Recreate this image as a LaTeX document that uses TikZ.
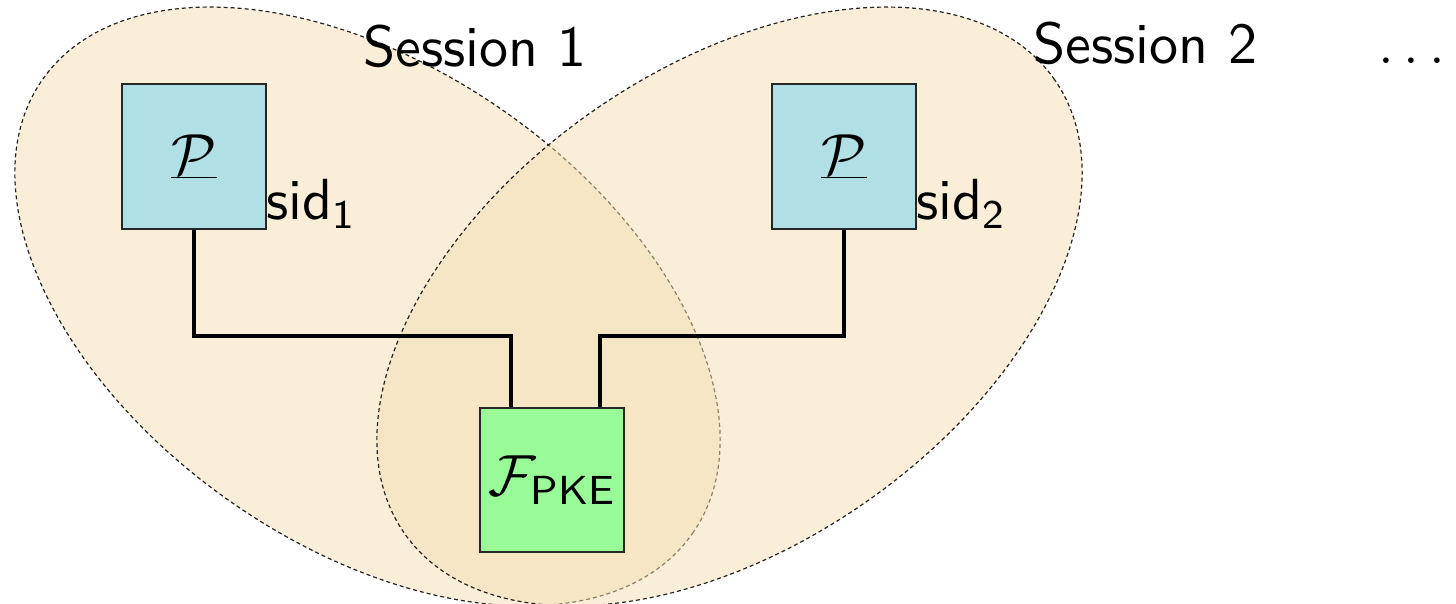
\RequirePackage{fix-cm}
\documentclass[tikz,border=0pt]{standalone}
\usepackage{fontspec}
\setsansfont[Extension=.otf, SizeFeatures={{Size=-24,Font=lmsans8-regular},{Size=24-,Font=lmsans10-regular}}]{lmsans10-regular}
\definecolor{blobfill}{RGB}{245,222,179}
\definecolor{pblue}{RGB}{176,224,230}
\definecolor{fgreen}{RGB}{152,251,152}
\begin{document}
\begin{tikzpicture}[x=0.5pt,y=0.5pt,
  font=\fontsize{29}{35}\selectfont\sffamily,
  blob/.style={fill=blobfill, fill opacity=0.5, draw=black, draw opacity=0.85, line width=0.6pt, dash pattern=on 2pt off 1.5pt},
  party/.style={draw=black!85, fill=pblue, line width=0.7pt, minimum width=72pt, minimum height=72.5pt, inner sep=0pt},
  func/.style={draw=black!85, fill=fgreen, line width=0.7pt, minimum width=72pt, minimum height=72pt, inner sep=0pt},
  conn/.style={line width=2pt},
  lbl/.style={inner sep=0pt, anchor=base west}]
\useasboundingbox (0,0) rectangle (1456,-604);
\draw[blob, rotate around={-34.9:(367.5,-306.5)}] (367.5,-306.5) ellipse [x radius=396.4, y radius=238.4];
\draw[blob, rotate around={34.9:(729.5,-306.5)}] (729.5,-306.5) ellipse [x radius=396.4, y radius=238.4];
\node[party] (p1) at (194,-156.5) {$\underline{\mathcal{P}}$};
\node[party] (p2) at (844,-156.5) {$\underline{\mathcal{P}}$};
\node[func] (f) at (552,-480) {$\mathcal{F}_{\mathsf{PKE}}$};
\coordinate (j1) at (511,-336);
\coordinate (j2) at (600,-336);
\draw[conn] (p1.south) |- (j1) -- (j1 |- f.north);
\draw[conn] (p2.south) |- (j2) -- (j2 |- f.north);
\node[lbl] (s1) at (363,-67) {Session 1};
\node[lbl] (s2) at (1033,-64) {Session 2};
\node[lbl] (dots) at (1378,-64) {$\dots$};
\node[lbl] (sid1) at (266,-220) {sid$_{\mathsf{1}}$};
\node[lbl] (sid2) at (916,-220) {sid$_{\mathsf{2}}$};
\end{tikzpicture}
\end{document}
